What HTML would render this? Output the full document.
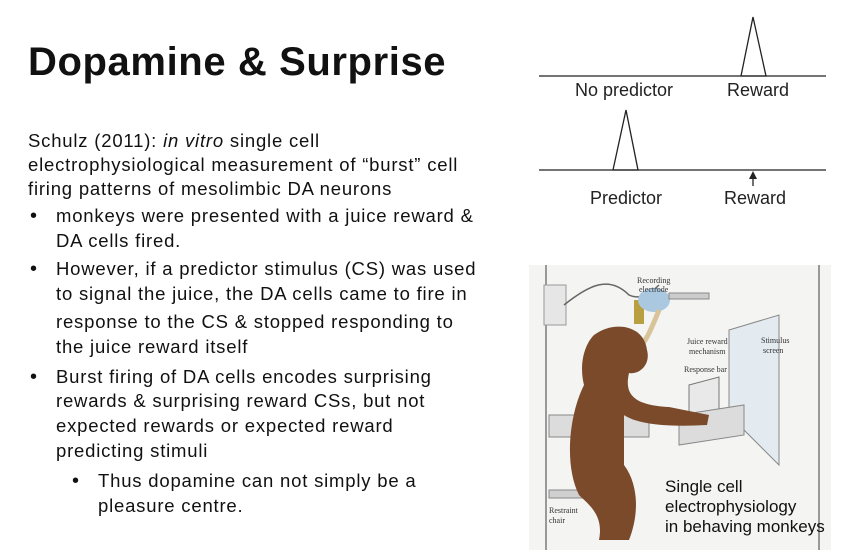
<!DOCTYPE html>
<html><head><meta charset="utf-8"><style>
body{margin:0;width:852px;height:558px;background:#fff;position:relative;overflow:hidden;font-family:"Liberation Sans",sans-serif;color:#111}
.t{position:absolute;white-space:nowrap;font-size:18.5px;letter-spacing:0.8px;line-height:20px}
.b{position:absolute;font-size:20px;line-height:20px}
</style></head><body>
<div style="position:absolute;left:28px;top:40px;font-size:40px;letter-spacing:0.6px;font-weight:bold;white-space:nowrap">Dopamine &amp; Surprise</div>

<div>
<div class="t" style="left:28px;top:131px">Schulz (2011): <i>in vitro</i> single cell</div>
<div class="t" style="left:28px;top:155px">electrophysiological measurement of “burst” cell</div>
<div class="t" style="left:28px;top:179px">firing patterns of mesolimbic DA neurons</div>
<div class="b" style="left:30px;top:206px">•</div>
<div class="t" style="left:56px;top:206px">monkeys were presented with a juice reward &amp;</div>
<div class="t" style="left:56px;top:231px">DA cells fired.</div>
<div class="b" style="left:30px;top:259px">•</div>
<div class="t" style="left:56px;top:259px">However, if a predictor stimulus (CS) was used</div>
<div class="t" style="left:56px;top:284px">to signal the juice, the DA cells came to fire in</div>
<div class="t" style="left:56px;top:312px">response to the CS &amp; stopped responding to</div>
<div class="t" style="left:56px;top:337px">the juice reward itself</div>
<div class="b" style="left:30px;top:367px">•</div>
<div class="t" style="left:56px;top:367px">Burst firing of DA cells encodes surprising</div>
<div class="t" style="left:56px;top:391px">rewards &amp; surprising reward CSs, but not</div>
<div class="t" style="left:56px;top:416px">expected rewards or expected reward</div>
<div class="t" style="left:56px;top:441px">predicting stimuli</div>
<div class="b" style="left:72px;top:471px">•</div>
<div class="t" style="left:98px;top:471px">Thus dopamine can not simply be a</div>
<div class="t" style="left:98px;top:496px">pleasure centre.</div>
</div>

<svg style="position:absolute;left:0;top:0" width="852" height="230">
<g stroke="#222" stroke-width="1.3" fill="none">
<line x1="539" y1="76" x2="826" y2="76"/>
<polygon points="741,76 753,17 766,76"/>
<line x1="539" y1="170" x2="826" y2="170"/>
<polygon points="613,170 626,110 638,170"/>
<line x1="753" y1="186" x2="753" y2="174"/>
</g>
<polygon points="749,179 753,171 757,179" fill="#222"/>
<g font-family="Liberation Sans,sans-serif" font-size="18" fill="#222" text-anchor="middle">
<text x="624" y="96">No predictor</text>
<text x="758" y="96">Reward</text>
<text x="626" y="204">Predictor</text>
<text x="755" y="204">Reward</text>
</g>
</svg>

<svg style="position:absolute;left:529px;top:265px" width="302" height="285">
<rect width="302" height="285" fill="#f4f4f3"/>
<line x1="17" y1="0" x2="17" y2="285" stroke="#999" stroke-width="2"/>
<line x1="290" y1="0" x2="290" y2="285" stroke="#999" stroke-width="2"/>
<rect x="15" y="20" width="22" height="40" fill="#e6e6e6" stroke="#999"/>
<path d="M35,40 C60,20 80,10 100,30 C110,35 120,30 130,20" stroke="#666" fill="none" stroke-width="1.5"/>
<rect x="105" y="35" width="10" height="24" fill="#b8a040"/>
<ellipse cx="125" cy="35" rx="16" ry="12" fill="#aac8e0"/>
<rect x="140" y="28" width="40" height="6" fill="#ccc" stroke="#888"/>
<path d="M130,45 C120,70 115,80 105,88" stroke="#d9c49a" stroke-width="5" fill="none"/>
<polygon points="200,65 250,50 250,200 200,150" fill="#e3eaf0" stroke="#888"/>
<polygon points="160,120 190,112 190,150 160,158" fill="#e9e9e9" stroke="#777"/>
<polygon points="150,150 215,140 215,170 150,180" fill="#dcdcdc" stroke="#888"/>
<rect x="20" y="150" width="100" height="22" fill="#dcdcdc" stroke="#888"/>
<rect x="20" y="225" width="85" height="8" fill="#d0d0d0" stroke="#888"/>
<path d="M65,70 C85,55 115,60 118,85 C122,100 110,110 100,108 C95,130 105,140 140,142 L180,150 L178,160 C140,162 110,160 95,150 L95,200 C110,220 110,250 100,275 L70,275 C75,250 60,240 50,230 C35,200 40,150 55,120 C50,100 55,80 65,70 Z" fill="#7a4a2a"/>
<text x="108" y="18" font-family="Liberation Serif,serif" font-size="8" fill="#333">Recording</text>
<text x="110" y="27" font-family="Liberation Serif,serif" font-size="8" fill="#333">electrode</text>
<text x="158" y="79" font-family="Liberation Serif,serif" font-size="8" fill="#333">Juice reward</text>
<text x="160" y="89" font-family="Liberation Serif,serif" font-size="8" fill="#333">mechanism</text>
<text x="232" y="78" font-family="Liberation Serif,serif" font-size="8" fill="#333">Stimulus</text>
<text x="234" y="88" font-family="Liberation Serif,serif" font-size="8" fill="#333">screen</text>
<text x="155" y="107" font-family="Liberation Serif,serif" font-size="8" fill="#333">Response bar</text>
<text x="20" y="248" font-family="Liberation Serif,serif" font-size="8" fill="#333">Restraint</text>
<text x="20" y="258" font-family="Liberation Serif,serif" font-size="8" fill="#333">chair</text>
<g font-family="Liberation Sans,sans-serif" font-size="17" fill="#111">
<text x="136" y="227">Single cell</text>
<text x="136" y="247">electrophysiology</text>
<text x="136" y="267">in behaving monkeys</text>
</g>
</svg>
</body></html>
